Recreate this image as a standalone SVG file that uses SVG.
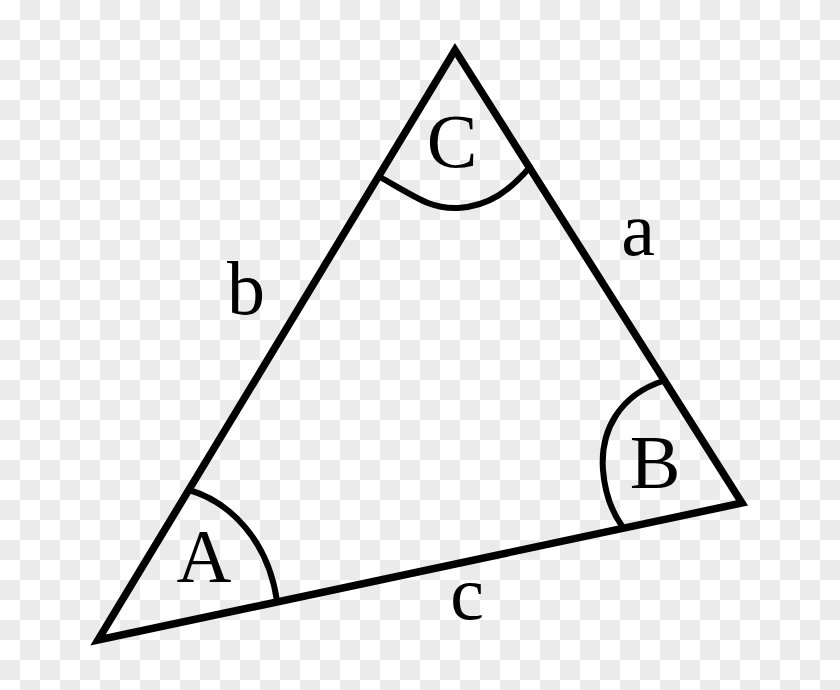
<svg xmlns="http://www.w3.org/2000/svg" width="840" height="690" viewBox="0 0 840 690">
<style>
.edge{fill:none;stroke:#000;stroke-width:7.5;stroke-linecap:round;stroke-linejoin:miter}
.arc{fill:none;stroke:#000;stroke-width:6;stroke-linecap:round}
.lbl{font-family:"Liberation Serif","Times New Roman",serif;font-size:76px;fill:#000;text-anchor:middle}
</style>
<defs>
<pattern id="checker" x="0" y="0" width="40" height="40" patternUnits="userSpaceOnUse">
<rect width="40" height="40" fill="#ffffff"/>
<rect x="20" y="0" width="20" height="20" fill="#ebebeb"/>
<rect x="0" y="20" width="20" height="20" fill="#ebebeb"/>
</pattern>
</defs>
<rect width="840" height="690" fill="url(#checker)"/>
<g id="triangle">
<polygon points="98,640 455,50 742,503" fill="#ffffff" class="edge"/>
</g>
<g id="angles">
<path id="angleC" class="arc" d="M380,177 C420,200 432,209 458,208 C490,206 510,190 530,167"/>
<path id="angleA" class="arc" d="M189,490 C230,502 268,540 277,601"/>
<path id="angleB" class="arc" d="M663,381 C620,395 600,430 603,470 C605,495 612,512 622,526"/>
</g>
<g id="labels">
<text class="lbl" x="452" y="167">C</text>
<text class="lbl" x="204" y="582">A</text>
<text class="lbl" x="655" y="488">B</text>
<text class="lbl" x="246" y="314">b</text>
<text class="lbl" x="638" y="255">a</text>
<text class="lbl" x="467" y="619">c</text>
</g>
</svg>
